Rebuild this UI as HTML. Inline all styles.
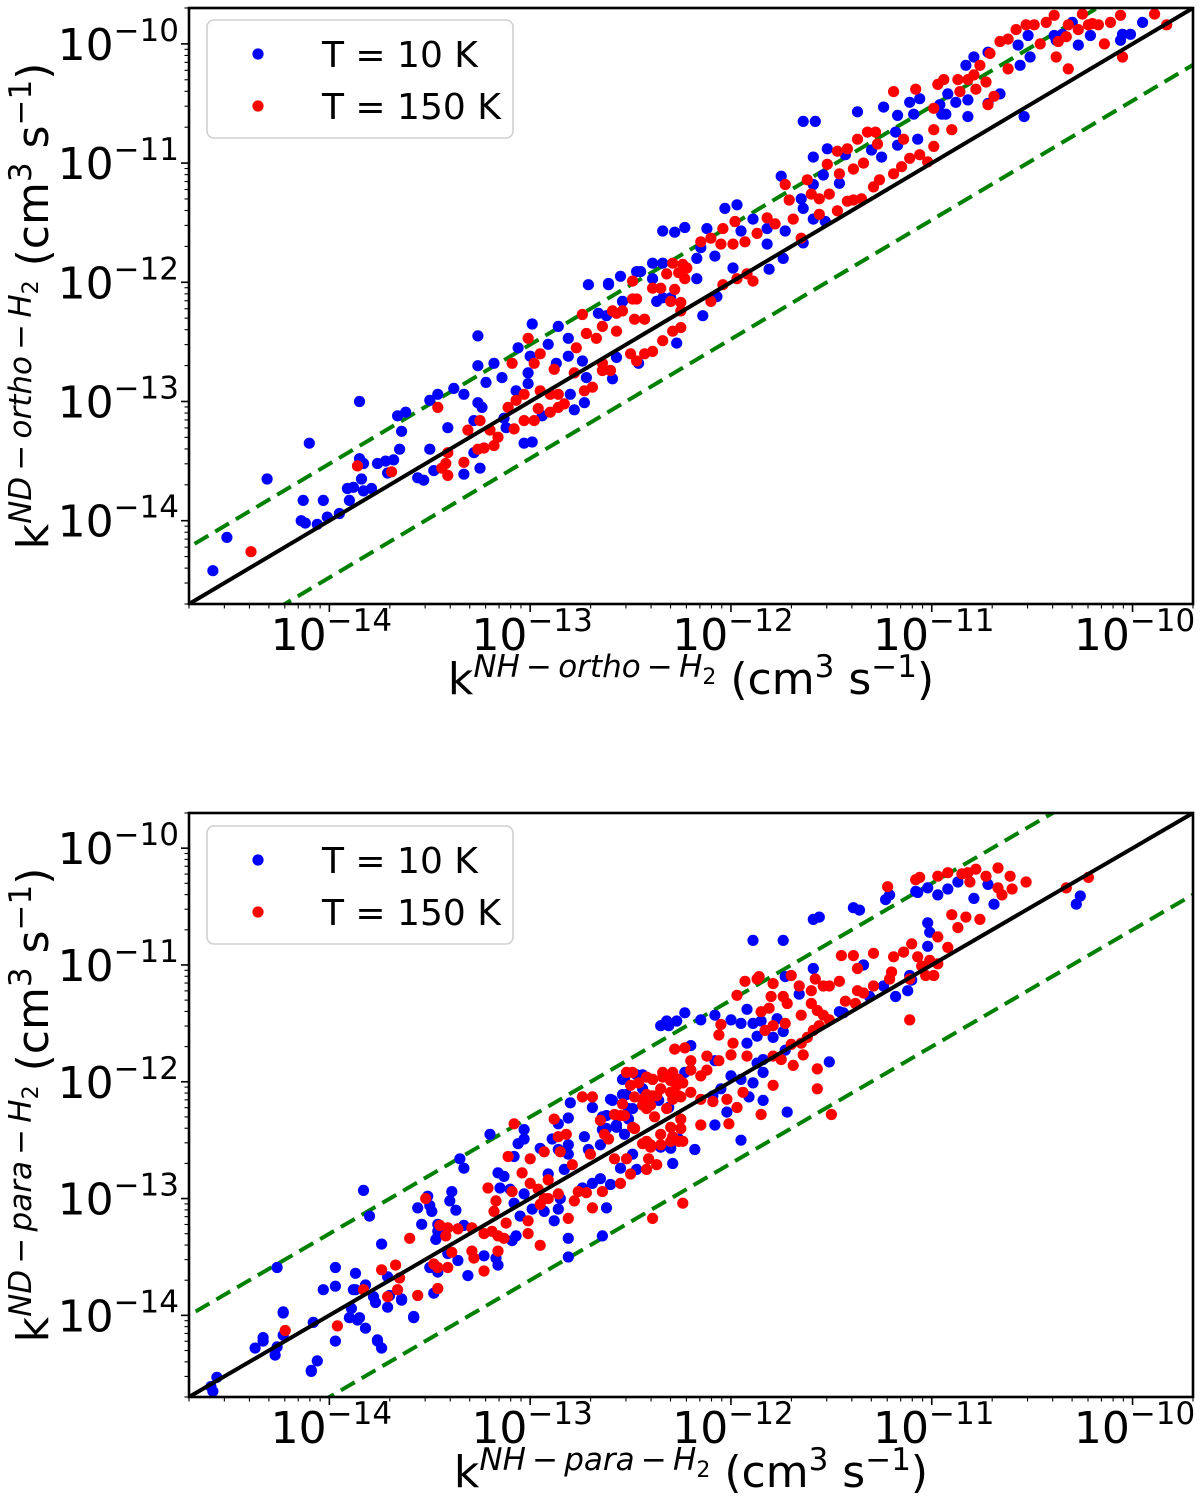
<!DOCTYPE html>
<html><head><meta charset="utf-8"><style>
html,body{margin:0;padding:0;background:#fff;overflow:hidden;}
svg{display:block;font-family:"DejaVu Sans","Liberation Sans",sans-serif;}
</style></head><body>
<svg id="fig" width="1200" height="1503" viewBox="0 0 1200 1503" xmlns="http://www.w3.org/2000/svg"></svg>
<script>
// data: log10 of rate coefficients (cm^3 s^-1)
const majorTicks = [-14, -13, -12, -11, -10];
const majorTickLabels = ["\u221214", "\u221213", "\u221212", "\u221211", "\u221210"];
const legendLabels = ["T = 10 K", "T = 150 K"];
const seriesColors = ["#0000ff", "#ff0000"];
const topDiagFactor = 3;
const botDiagFactor = 5;

const topBlue = [[-14.58,-14.42],[-14.51,-14.14],[-14.31,-13.65],[-14.10,-13.35],[-13.85,-13.00],[-14.13,-13.83],[-14.03,-13.83],[-14.14,-14.00],[-14.12,-14.02],[-14.06,-14.03],[-14.01,-13.97],[-13.95,-13.94],[-13.91,-13.73],[-13.88,-13.72],[-13.90,-13.83],[-13.83,-13.75],[-13.79,-13.73],[-13.84,-13.65],[-13.85,-13.48],[-13.83,-13.52],[-13.76,-13.52],[-13.72,-13.50],[-13.68,-13.49],[-13.71,-13.60],[-13.65,-13.40],[-13.66,-13.12],[-13.62,-13.09],[-13.64,-13.25],[-13.50,-12.99],[-13.46,-12.94],[-13.38,-12.89],[-13.33,-12.94],[-13.26,-13.01],[-13.24,-13.05],[-13.28,-13.16],[-13.41,-13.22],[-13.50,-13.40],[-13.48,-13.58],[-13.56,-13.64],[-13.53,-13.66],[-13.33,-13.61],[-13.25,-13.56],[-13.28,-13.43],[-13.26,-12.70],[-13.26,-12.45],[-13.18,-12.68],[-13.14,-12.80],[-13.22,-12.84],[-13.07,-12.91],[-13.01,-12.76],[-13.01,-12.85],[-13.06,-12.55],[-13.00,-12.62],[-12.99,-12.35],[-12.91,-12.52],[-12.87,-12.68],[-12.86,-12.37],[-12.81,-12.47],[-12.81,-12.62],[-12.80,-12.94],[-12.78,-13.07],[-12.73,-13.01],[-12.72,-12.80],[-13.03,-13.35],[-12.99,-13.34],[-13.12,-13.22],[-13.13,-13.14],[-12.94,-13.12],[-12.74,-12.66],[-12.71,-12.02],[-12.61,-12.02],[-12.55,-11.95],[-12.54,-12.16],[-12.66,-12.26],[-12.62,-12.28],[-12.59,-12.81],[-12.57,-12.63],[-12.45,-11.91],[-12.39,-11.97],[-12.37,-12.16],[-12.46,-12.68],[-12.34,-11.57],[-12.28,-11.58],[-12.23,-11.54],[-12.27,-12.51],[-12.34,-11.84],[-12.30,-12.13],[-11.64,-10.65],[-11.58,-10.65],[-11.37,-10.57],[-12.03,-11.38],[-11.97,-11.35],[-11.75,-11.11],[-11.59,-10.95],[-11.52,-10.88],[-11.24,-10.53],[-11.11,-10.49],[-11.06,-10.46],[-10.83,-10.18],[-10.79,-10.11],[-10.72,-10.07],[-10.57,-10.01],[-10.52,-9.93],[-10.39,-9.93],[-10.35,-9.92],[-10.30,-9.82],[-10.38,-9.97],[-10.96,-10.51],[-10.92,-10.42],[-10.82,-10.47],[-10.82,-10.61],[-10.95,-10.59],[-11.17,-10.60],[-11.09,-10.59],[-11.18,-10.74],[-11.17,-10.85],[-11.07,-10.80],[-11.25,-10.95],[-11.30,-10.89],[-11.46,-11.17],[-11.43,-10.93],[-11.54,-11.10],[-11.59,-11.18],[-11.65,-11.30],[-11.64,-11.38],[-11.64,-11.67],[-11.73,-11.57],[-11.82,-11.55],[-11.89,-11.47],[-11.95,-11.57],[-11.82,-11.68],[-11.81,-11.89],[-11.74,-11.80],[-12.08,-11.78],[-12.17,-11.80],[-12.15,-11.71],[-12.17,-11.97],[-12.14,-12.28],[-12.34,-12.13],[-12.39,-11.84],[-12.47,-11.91],[-12.61,-12.01],[-12.12,-11.55],[-12.07,-12.12],[-11.99,-11.88],[-11.59,-11.47],[-11.53,-11.49],[-9.95,-9.82],[-10.05,-9.92],[-10.01,-9.92],[-10.06,-9.97],[-10.21,-9.93],[-10.27,-10.01],[-10.51,-10.11],[-10.56,-10.18],[-10.66,-10.42],[-10.72,-10.50],[-10.54,-10.61],[-10.88,-10.49],[-10.93,-10.59]];

const topRed = [[-14.39,-14.26],[-13.86,-13.54],[-13.69,-13.59],[-13.46,-13.05],[-13.41,-13.43],[-13.42,-13.52],[-13.44,-13.56],[-13.41,-13.62],[-13.33,-13.51],[-13.31,-13.24],[-13.25,-13.16],[-13.26,-13.40],[-13.23,-13.39],[-13.20,-13.24],[-13.18,-13.37],[-13.16,-13.30],[-13.11,-13.05],[-13.07,-12.99],[-13.03,-12.94],[-13.08,-13.23],[-13.03,-13.16],[-12.98,-13.16],[-12.96,-13.06],[-12.95,-12.91],[-12.90,-13.09],[-12.86,-13.05],[-12.83,-13.02],[-12.90,-12.94],[-12.86,-12.94],[-12.88,-12.73],[-12.78,-12.76],[-12.73,-12.91],[-12.69,-12.88],[-12.77,-12.55],[-12.72,-12.43],[-12.67,-12.47],[-12.64,-12.37],[-12.64,-12.74],[-12.60,-12.74],[-12.59,-12.24],[-12.54,-12.24],[-12.57,-12.41],[-12.49,-11.99],[-12.47,-12.14],[-12.48,-12.31],[-12.43,-12.31],[-12.50,-12.60],[-12.47,-12.66],[-12.43,-12.60],[-12.39,-12.58],[-12.35,-12.05],[-12.34,-12.49],[-12.25,-12.38],[-12.24,-11.85],[-12.26,-11.92],[-12.23,-11.97],[-12.28,-12.06],[-12.25,-12.17],[-12.74,-12.27],[-13.01,-12.47],[-13.09,-12.68],[-12.98,-12.68],[-12.95,-12.60],[-12.64,-12.68],[-12.57,-12.26],[-12.49,-12.14],[-12.39,-12.05],[-12.32,-11.93],[-12.29,-11.84],[-12.22,-11.88],[-12.15,-11.66],[-12.10,-11.63],[-12.04,-11.55],[-11.98,-11.49],[-12.05,-11.68],[-11.99,-11.68],[-11.93,-11.66],[-11.87,-11.59],[-11.82,-11.46],[-11.78,-11.51],[-11.73,-11.18],[-11.71,-11.31],[-11.69,-11.47],[-11.65,-11.63],[-11.62,-11.14],[-11.60,-11.26],[-11.56,-11.30],[-11.51,-11.26],[-11.56,-11.43],[-11.47,-11.40],[-11.42,-11.32],[-11.39,-11.31],[-11.35,-11.30],[-11.46,-11.09],[-11.39,-11.05],[-11.34,-11.00],[-11.52,-11.01],[-11.47,-10.90],[-11.42,-10.88],[-11.37,-10.80],[-11.32,-10.74],[-11.28,-10.74],[-11.27,-10.84],[-11.29,-11.20],[-11.26,-11.14],[-11.19,-11.09],[-11.15,-11.03],[-11.14,-10.80],[-11.11,-10.96],[-11.06,-10.93],[-11.02,-10.99],[-10.99,-10.86],[-10.99,-10.72],[-10.90,-10.72],[-10.99,-10.54],[-10.97,-10.34],[-10.94,-10.30],[-10.87,-10.30],[-10.86,-10.40],[-10.82,-10.30],[-10.78,-10.38],[-10.79,-10.26],[-10.73,-10.32],[-10.76,-10.18],[-10.71,-10.08],[-10.66,-9.98],[-10.62,-9.96],[-10.62,-10.21],[-10.58,-9.88],[-10.53,-9.84],[-10.49,-9.84],[-10.43,-9.82],[-10.39,-9.76],[-10.46,-10.00],[-10.38,-10.11],[-10.32,-9.84],[-10.25,-9.75],[-10.20,-9.83],[-10.72,-10.51],[-10.69,-10.44],[-11.19,-10.40],[-11.08,-10.38],[-12.30,-12.16],[-12.25,-12.24],[-12.29,-12.41],[-12.10,-12.16],[-12.04,-12.02],[-11.97,-11.97],[-11.92,-11.93],[-11.89,-11.99],[-10.06,-9.76],[-9.89,-9.75],[-9.83,-9.84],[-10.11,-9.82],[-10.17,-9.84],[-10.22,-9.84],[-10.27,-9.88],[-10.14,-10.00],[-10.05,-10.11],[-10.32,-10.21],[-10.33,-9.94],[-10.37,-9.98]];

const botBlue = [[-14.58,-14.65],[-14.56,-14.53],[-14.37,-14.28],[-14.33,-14.19],[-14.33,-14.22],[-14.27,-14.34],[-14.26,-14.27],[-14.23,-13.97],[-14.23,-14.17],[-14.09,-14.47],[-14.06,-14.39],[-14.08,-14.06],[-13.97,-14.22],[-14.03,-13.78],[-13.97,-13.75],[-13.90,-14.02],[-13.86,-14.04],[-13.82,-14.11],[-13.89,-13.94],[-13.87,-13.78],[-13.82,-13.74],[-13.78,-13.84],[-13.77,-13.89],[-13.71,-13.93],[-13.70,-13.83],[-13.64,-13.87],[-13.76,-14.22],[-13.74,-14.28],[-13.58,-14.02],[-13.48,-13.81],[-12.31,-11.52],[-12.27,-11.48],[-12.44,-11.94],[-12.53,-11.97],[-12.52,-12.11],[-12.59,-12.16],[-12.69,-12.22],[-12.80,-12.18],[-12.81,-12.31],[-12.86,-12.36],[-13.03,-12.41],[-13.03,-12.49],[-13.06,-12.53],[-13.20,-12.45],[-12.89,-12.49],[-12.81,-12.54],[-12.73,-12.47],[-12.71,-12.58],[-12.64,-12.30],[-12.62,-12.40],[-12.57,-12.39],[-12.51,-12.32],[-12.49,-12.23],[-12.65,-12.54],[-12.95,-12.57],[-12.86,-12.58],[-12.81,-12.62],[-13.08,-12.64],[-12.91,-12.79],[-12.83,-12.75],[-12.65,-12.83],[-12.60,-12.88],[-12.69,-12.87],[-12.74,-12.91],[-12.55,-12.74],[-12.49,-12.62],[-12.47,-12.75],[-12.30,-12.57],[-12.26,-12.49],[-12.29,-12.70],[-12.62,-13.08],[-12.85,-13.00],[-12.86,-13.09],[-12.88,-13.19],[-12.93,-13.11],[-12.99,-13.09],[-13.05,-13.15],[-13.08,-13.04],[-13.03,-12.96],[-13.10,-12.92],[-13.15,-12.91],[-13.16,-12.78],[-13.13,-12.81],[-13.33,-12.74],[-13.35,-12.66],[-13.39,-12.94],[-13.40,-13.02],[-13.37,-13.10],[-13.51,-12.98],[-13.56,-13.08],[-13.50,-13.06],[-13.49,-13.11],[-13.54,-13.22],[-13.46,-13.22],[-13.46,-13.28],[-13.47,-13.35],[-13.33,-13.23],[-13.41,-13.47],[-13.36,-13.53],[-13.50,-13.59],[-13.46,-13.63],[-13.31,-13.66],[-13.23,-13.49],[-13.17,-13.51],[-13.16,-13.57],[-13.09,-13.36],[-13.07,-13.32],[-12.81,-13.34],[-12.81,-13.50],[-12.64,-13.32],[-13.74,-13.39],[-13.80,-13.15],[-13.83,-12.93],[-13.97,-13.59],[-13.87,-13.64],[-13.88,-13.78],[-13.71,-13.67],[-13.64,-13.86],[-13.58,-14.01],[-14.26,-13.59],[-14.23,-13.98],[-13.85,-14.02],[-13.76,-14.21],[-14.09,-14.48],[-14.59,-14.61],[-11.89,-10.79],[-11.74,-10.79],[-11.59,-10.61],[-11.56,-10.59],[-11.39,-10.51],[-11.36,-10.53],[-11.23,-10.44],[-11.21,-10.40],[-11.08,-10.37],[-11.07,-10.38],[-11.02,-10.34],[-10.97,-10.40],[-10.92,-10.35],[-10.87,-10.29],[-10.72,-10.31],[-10.79,-10.43],[-10.69,-10.48],[-11.02,-10.64],[-11.01,-10.72],[-11.02,-10.84],[-11.34,-11.00],[-11.59,-11.03],[-11.73,-11.10],[-11.66,-11.25],[-11.24,-11.18],[-11.18,-11.27],[-11.12,-11.22],[-11.10,-11.13],[-11.11,-11.09],[-11.31,-11.27],[-11.46,-11.40],[-11.44,-11.41],[-12.23,-11.41],[-12.35,-11.52],[-12.32,-11.48],[-12.15,-11.47],[-12.08,-11.43],[-12.00,-11.47],[-11.95,-11.50],[-11.89,-11.50],[-11.92,-11.38],[-11.85,-11.48],[-11.77,-11.46],[-12.20,-11.69],[-12.08,-11.82],[-11.92,-11.67],[-11.87,-11.61],[-11.84,-11.81],[-11.79,-11.62],[-11.74,-11.57],[-11.73,-11.73],[-11.87,-11.84],[-11.84,-11.92],[-11.89,-12.01],[-11.95,-11.98],[-12.00,-11.95],[-12.05,-12.06],[-12.09,-12.12],[-12.23,-11.92],[-12.44,-12.06],[-12.54,-11.98],[-12.47,-11.94],[-12.54,-12.11],[-12.60,-12.15],[-12.51,-12.23],[-12.62,-12.29],[-12.57,-12.37],[-12.53,-12.45],[-12.64,-12.41],[-12.31,-12.22],[-12.36,-12.16],[-12.02,-12.26],[-11.91,-12.13],[-11.84,-12.16],[-12.08,-12.37],[-11.72,-12.26],[-11.95,-12.50],[-12.18,-12.58],[-12.35,-12.56],[-11.51,-11.83],[-10.26,-10.41],[-10.28,-10.48]];

const botRed = [[-14.22,-14.13],[-13.96,-14.09],[-13.83,-13.78],[-13.74,-13.61],[-13.71,-13.84],[-13.67,-13.57],[-13.65,-13.68],[-13.66,-13.78],[-13.56,-13.83],[-13.60,-13.34],[-13.52,-13.00],[-13.46,-13.77],[-13.48,-13.56],[-13.46,-13.59],[-13.41,-13.59],[-13.39,-13.46],[-13.45,-13.23],[-13.41,-13.25],[-13.42,-13.32],[-13.36,-13.26],[-13.29,-13.25],[-13.29,-13.45],[-13.28,-13.51],[-13.23,-13.62],[-13.23,-13.30],[-13.19,-13.28],[-13.16,-13.32],[-13.18,-13.11],[-13.17,-13.02],[-13.21,-12.91],[-13.12,-13.21],[-13.13,-13.34],[-13.16,-13.45],[-13.09,-12.94],[-13.04,-12.78],[-13.00,-12.87],[-13.11,-12.64],[-13.08,-12.36],[-13.00,-12.66],[-13.01,-13.19],[-13.01,-13.30],[-12.95,-13.40],[-12.96,-12.92],[-12.93,-13.00],[-12.93,-12.60],[-12.91,-12.84],[-12.88,-12.32],[-12.86,-12.47],[-12.85,-12.60],[-12.82,-12.45],[-12.86,-12.96],[-12.91,-13.00],[-12.95,-13.05],[-12.81,-13.17],[-12.79,-12.71],[-12.78,-13.02],[-12.76,-12.94],[-12.72,-12.95],[-12.74,-12.13],[-12.69,-12.13],[-12.70,-12.62],[-12.69,-13.08],[-12.65,-12.33],[-12.63,-12.45],[-12.61,-12.49],[-12.58,-12.66],[-12.54,-12.19],[-12.55,-12.29],[-12.50,-12.79],[-12.55,-12.87],[-12.64,-12.94],[-12.49,-11.92],[-12.46,-12.01],[-12.44,-12.15],[-12.39,-11.98],[-12.39,-12.12],[-12.40,-12.20],[-12.38,-12.30],[-12.52,-12.66],[-12.48,-12.40],[-12.42,-12.51],[-12.40,-12.56],[-12.35,-12.54],[-12.41,-12.66],[-12.42,-12.75],[-12.37,-12.71],[-12.29,-12.47],[-12.34,-11.96],[-12.29,-11.92],[-12.26,-11.98],[-12.30,-12.09],[-12.25,-12.13],[-12.32,-12.23],[-12.25,-12.40],[-12.24,-12.51],[-12.23,-11.71],[-12.39,-13.17],[-12.24,-13.04],[-11.22,-10.33],[-11.08,-10.27],[-11.06,-10.25],[-10.97,-10.24],[-10.92,-10.21],[-10.85,-10.22],[-10.82,-10.21],[-10.78,-10.18],[-10.73,-10.24],[-10.67,-10.17],[-10.61,-10.24],[-10.81,-10.29],[-10.67,-10.34],[-10.65,-10.40],[-10.60,-10.35],[-10.53,-10.29],[-10.90,-10.57],[-10.83,-10.59],[-10.76,-10.61],[-10.87,-10.68],[-10.92,-10.85],[-10.97,-10.76],[-11.10,-10.82],[-11.07,-10.93],[-11.01,-10.96],[-10.97,-10.99],[-11.05,-11.01],[-11.03,-11.09],[-10.99,-11.09],[-11.11,-11.12],[-11.14,-10.89],[-11.19,-10.93],[-11.20,-11.06],[-11.21,-11.12],[-11.29,-10.90],[-11.39,-10.92],[-11.45,-10.92],[-11.37,-11.03],[-11.29,-11.18],[-11.34,-11.24],[-11.38,-11.33],[-11.43,-11.31],[-11.46,-11.14],[-11.51,-11.18],[-11.54,-11.18],[-11.58,-11.12],[-11.60,-11.22],[-11.66,-11.18],[-11.70,-11.09],[-11.79,-11.16],[-11.74,-11.27],[-11.80,-11.27],[-11.87,-11.12],[-11.93,-11.14],[-11.72,-11.33],[-11.65,-11.43],[-11.60,-11.33],[-11.57,-11.39],[-11.54,-11.43],[-11.51,-11.47],[-11.56,-11.52],[-11.59,-11.56],[-11.62,-11.62],[-11.65,-11.67],[-11.70,-11.68],[-11.73,-11.50],[-11.79,-11.52],[-11.83,-11.56],[-11.85,-11.40],[-12.05,-11.51],[-12.06,-11.60],[-11.99,-11.67],[-12.00,-11.77],[-12.06,-11.82],[-12.12,-11.78],[-12.20,-11.82],[-12.28,-11.72],[-12.20,-11.90],[-12.15,-11.95],[-12.12,-11.90],[-12.24,-12.01],[-12.27,-12.03],[-12.34,-11.92],[-12.30,-11.99],[-12.35,-12.06],[-12.39,-11.98],[-12.42,-11.96],[-12.37,-12.12],[-12.42,-12.11],[-12.48,-12.13],[-12.50,-12.03],[-12.52,-11.92],[-12.42,-12.23],[-12.44,-12.20],[-12.29,-12.15],[-12.26,-12.12],[-12.20,-12.09],[-12.15,-12.15],[-12.09,-12.17],[-12.02,-12.15],[-11.94,-12.09],[-11.97,-12.22],[-12.01,-12.36],[-12.15,-12.37],[-12.25,-12.32],[-12.30,-12.39],[-12.35,-12.45],[-12.44,-12.53],[-12.40,-12.54],[-12.30,-12.51],[-12.26,-12.51],[-12.53,-12.29],[-12.49,-12.39],[-12.58,-12.28],[-11.92,-11.78],[-11.79,-11.78],[-11.75,-11.81],[-11.69,-11.86],[-11.64,-11.77],[-11.79,-12.03],[-11.85,-12.28],[-11.57,-11.89],[-11.57,-12.06],[-11.50,-12.28],[-11.11,-11.47],[-11.37,-11.22],[-11.86,-11.10],[-11.97,-11.26],[-11.81,-11.37],[-10.22,-10.25],[-10.33,-10.34]];

const NS = "http://www.w3.org/2000/svg";
const svg = document.getElementById("fig");
function mk(tag, attrs, parent) {
  const e = document.createElementNS(NS, tag);
  for (const k in attrs) e.setAttribute(k, attrs[k]);
  (parent || svg).appendChild(e);
  return e;
}
const DMIN = Math.log10(2e-15), DMAX = DMIN + 5;

function panel(p) {
  const g = mk("g", {});
  
  
  const X = v => p.x0 + (v - DMIN) / (DMAX - DMIN) * (p.x1 - p.x0);
  const Y = v => p.y1 - (v - DMIN) / (DMAX - DMIN) * (p.y1 - p.y0);
  const cid = "clip-" + p.name;
  const defs = mk("defs", {}, g);
  const cp = mk("clipPath", {id: cid}, defs);
  mk("rect", {x: p.x0, y: p.y0, width: p.x1 - p.x0, height: p.y1 - p.y0}, cp);
  const plot = mk("g", {"clip-path": "url(#" + cid + ")"}, g);
  
  
  const lf = Math.log10(p.factor);
  const up = mk("line", {x1: X(DMIN - 1), y1: Y(DMIN - 1 + lf), x2: X(DMAX + 1), y2: Y(DMAX + 1 + lf), stroke: "#008000", "stroke-width": 4, "stroke-dasharray": "16,8"}, plot);
  
  
  const lo = mk("line", {x1: X(DMIN - 1), y1: Y(DMIN - 1 - lf), x2: X(DMAX + 1), y2: Y(DMAX + 1 - lf), stroke: "#008000", "stroke-width": 4, "stroke-dasharray": "16,8"}, plot);
  
  
  [p.blue, p.red].forEach((ser, si) => {
    const sg = mk("g", {fill: seriesColors[si]}, plot);
    
    
    ser.forEach(d => {
      const c = mk("circle", {cx: X(d[0]).toFixed(1), cy: Y(d[1]).toFixed(1), r: 5.6}, sg);
      
      
    });
  });
  const diag = mk("line", {x1: X(DMIN), y1: Y(DMIN), x2: X(DMAX), y2: Y(DMAX), stroke: "#000", "stroke-width": 4}, plot);
  
  
  const fr = mk("rect", {x: p.x0, y: p.y0, width: p.x1 - p.x0, height: p.y1 - p.y0, fill: "none", stroke: "#000", "stroke-width": 2.6}, g);
  
  
  const tg = mk("g", {stroke: "#000"}, g);
  
  
  for (let dec = -15; dec <= -10; dec++) {
    for (let k = 1; k <= 9; k++) {
      const v = dec + Math.log10(k);
      if (v < DMIN - 1e-6 || v > DMAX + 1e-6) continue;
      const len = k === 1 ? 8 : 4.5, w = k === 1 ? 1.6 : 1.1;
      mk("line", {x1: X(v), y1: p.y1, x2: X(v), y2: p.y1 + len, "stroke-width": w}, tg);
      mk("line", {x1: p.x0, y1: Y(v), x2: p.x0 - len, y2: Y(v), "stroke-width": w}, tg);
    }
  }
  majorTicks.forEach((t, i) => {
    const tx = mk("text", {x: X(t) + 2, y: p.y1 + 46, "font-size": 44, "text-anchor": "middle", fill: "#000"}, g);
    
    
    tx.innerHTML = '10<tspan dy="-19" font-size="31">' + majorTickLabels[i] + '</tspan>';
    const ty = mk("text", {x: p.x0 - 10, y: Y(t) + 16, "font-size": 44, "text-anchor": "end", fill: "#000"}, g);
    
    
    ty.innerHTML = '10<tspan dy="-19" font-size="31">' + majorTickLabels[i] + '</tspan>';
  });
  function labelHTML(sup) {
    return 'k<tspan dy="-17" font-size="31" font-style="italic">' + sup + '</tspan><tspan font-size="31">\u2009\u2212\u2009</tspan><tspan font-size="31" font-style="italic">' + p.spin + '</tspan><tspan font-size="31">\u2009\u2212\u2009</tspan><tspan font-size="31" font-style="italic">H</tspan><tspan dy="7" font-size="22">2</tspan><tspan dy="10" font-size="44">&#160;(cm</tspan><tspan dy="-17" font-size="31">3</tspan><tspan dy="17" font-size="44">&#160;s</tspan><tspan dy="-17" font-size="31">\u22121</tspan><tspan dy="17" font-size="44">)</tspan>';
  }
  const xl = mk("text", {x: (p.x0 + p.x1) / 2, y: p.y1 + 90, "font-size": 44, "text-anchor": "middle", fill: "#000"}, g);
  
  
  xl.innerHTML = labelHTML("NH");
  const cy = (p.y0 + p.y1) / 2;
  const lx = 48;
  const yl = mk("text", {x: lx, y: cy, "font-size": 44, "text-anchor": "middle", fill: "#000", transform: "rotate(-90 " + lx + " " + cy + ")"}, g);
  
  
  yl.innerHTML = labelHTML("ND");
  const lg = mk("g", {}, g);
  
  
  mk("rect", {x: 207, y: p.legY, width: 306, height: 118, rx: 7, fill: "#fff", "fill-opacity": 0.85, stroke: "#d0d0d0", "stroke-width": 1.6}, lg);
  legendLabels.forEach((lab, i) => {
    const cy2 = p.legY + 34 + i * 52;
    const m = mk("circle", {cx: 258, cy: cy2, r: 5.6, fill: seriesColors[i]}, lg);
    
    
    const t = mk("text", {x: 322, y: cy2 + 13, "font-size": 36, fill: "#000"}, lg);
    
    
    t.textContent = lab;
  });
}

panel({name: "ortho-panel", x0: 189, x1: 1193, y0: 8, y1: 604, factor: topDiagFactor, blue: topBlue, red: topRed, spin: "ortho", legY: 20});
panel({name: "para-panel", x0: 189, x1: 1193, y0: 813, y1: 1397, factor: botDiagFactor, blue: botBlue, red: botRed, spin: "para", legY: 826});
</script>
</body></html>
